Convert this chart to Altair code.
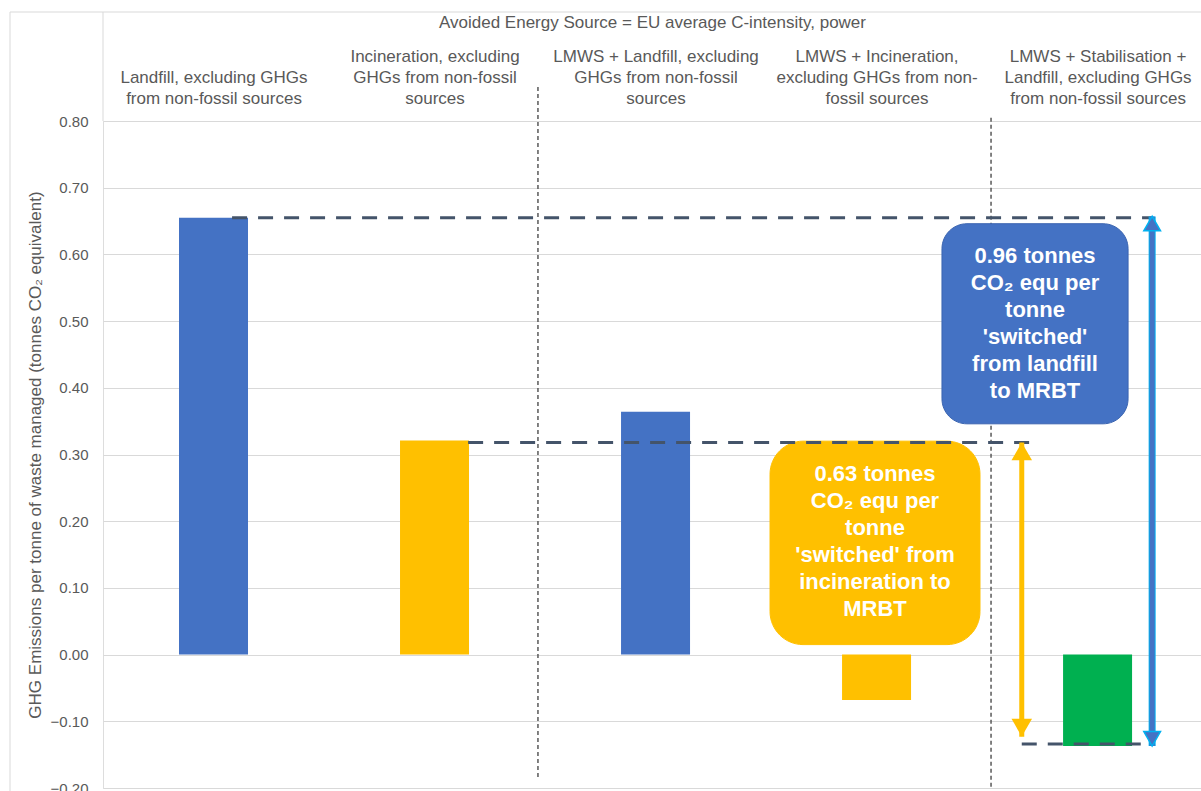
import json
import altair as alt
import pandas as pd

# ---- chart values ---------------------------------------------------------
categories = [
    "Landfill",
    "Incineration",
    "LMWS + Landfill",
    "LMWS + Incineration",
    "LMWS + Stabilisation + Landfill",
]
header_lines = [
    ["Landfill, excluding GHGs", "from non-fossil sources"],
    ["Incineration, excluding", "GHGs from non-fossil", "sources"],
    ["LMWS + Landfill, excluding", "GHGs from non-fossil", "sources"],
    ["LMWS + Incineration,", "excluding GHGs from non-", "fossil sources"],
    ["LMWS + Stabilisation +", "Landfill, excluding GHGs", "from non-fossil sources"],
]
category_pos = [0.5, 1.5, 2.5, 3.5, 4.5]
emissions = [0.655, 0.321, 0.364, -0.068, -0.137]
bar_colors = ["#4472C4", "#FFC000", "#4472C4", "#FFC000", "#00B050"]

# dashed reference levels
ref_level = [0.655, 0.318, -0.134]
ref_start = [0.584, 1.652, 4.157]
ref_end = [4.747, 4.195, 4.747]

# dotted group separators
sep_pos = [1.968, 4.018]
sep_top = [0.851, 0.805]
sep_bottom = [-0.188, -0.198]

# double-headed difference arrows (orange, blue)
arrow_pos = [4.157, 4.747]
arrow_top = [0.318, 0.657]
arrow_bottom = [-0.123, -0.137]

# call-out boxes (orange, blue)
box_left = [3.018, 3.796]
box_right = [3.968, 4.638]
box_top = [0.320, 0.646]
box_bottom = [0.015, 0.346]
box_text_x = [3.493, 4.217]
box_text_y = [0.170, 0.497]
box_text = [
    ["0.63 tonnes", "CO\u2082 equ per", "tonne", "'switched' from", "incineration to", "MRBT"],
    ["0.96 tonnes", "CO\u2082 equ per", "tonne", "'switched'", "from landfill", "to MRBT"],
]
box_fill = ["#FFC000", "#4472C4"]

header_title = "Avoided Energy Source = EU average C-intensity, power"
y_title = "GHG Emissions per tonne of waste managed (tonnes CO\u2082 equivalent)"
y_ticks = [-0.2, -0.1, 0.0, 0.1, 0.2, 0.3, 0.4, 0.5, 0.6, 0.7, 0.8]

# ---- layout ---------------------------------------------------------------
W, H = 1098, 667
X_DOMAIN = [0, 4.968]
Y_DOMAIN = [-0.2, 0.8]
FONT = "Liberation Sans"
GREY = "#595959"
BOX_LINE_H = 27


def xs(field, **kw):
    return alt.X(field, type="quantitative",
                 scale=alt.Scale(domain=X_DOMAIN, nice=False, zero=False, padding=0), **kw)


def ys(field, **kw):
    return alt.Y(field, type="quantitative",
                 scale=alt.Scale(domain=Y_DOMAIN, nice=False, zero=False), **kw)


bars_df = pd.DataFrame({"category": categories, "pos": category_pos,
                        "value": emissions, "color": bar_colors})
ref_df = pd.DataFrame({"level": ref_level, "start": ref_start, "end": ref_end})
sep_df = pd.DataFrame({"pos": sep_pos, "top": sep_top, "bottom": sep_bottom})
arrow_df = pd.DataFrame({"pos": arrow_pos, "top": arrow_top, "bottom": arrow_bottom})
box_df = pd.DataFrame({"left": box_left, "right": box_right, "top": box_top,
                       "bottom": box_bottom, "tx": box_text_x, "ty": box_text_y,
                       "label": ["\n".join(t) for t in box_text], "fill": box_fill})

# header labels are bottom-aligned: pad shorter ones with a blank first line
max_lines = max(len(lines) for lines in header_lines)
padded = [["\u00a0"] * (max_lines - len(lines)) + lines for lines in header_lines]
labels_js = json.dumps(["|".join(lines) for lines in padded])

x_axis = alt.Axis(
    orient="top", values=category_pos, grid=False, domain=False, ticks=False, tickSize=0,
    labelExpr=f"split({labels_js}[floor(datum.value)], '|')",
    labelFont=FONT, labelFontSize=17, labelColor=GREY, labelLineHeight=21,
    labelBaseline="top", labelPadding=73, labelLimit=400, labelOverlap=False,
    labelFlush=False,
    title=header_title, titleFont=FONT, titleFontSize=17, titleFontWeight="normal",
    titleColor=GREY, titleY=-99, titleBaseline="middle",
)
y_axis = alt.Axis(
    values=y_ticks, format=".2f", grid=True, gridColor="#D9D9D9", gridWidth=1,
    domain=False, ticks=False, labelFont=FONT, labelFontSize=15, labelColor=GREY,
    labelPadding=15, title=y_title, titleFont=FONT, titleFontSize=17,
    titleFontWeight="normal", titleColor=GREY, titleX=-68, titleBaseline="middle",
)

# outer chart frame and header box edge
frame = alt.Chart(pd.DataFrame({"k": [0]})).mark_rect(
    fill=None, stroke="#D9D9D9", strokeWidth=1
).encode(x=alt.value(-93), x2=alt.value(W + 20), y=alt.value(-109), y2=alt.value(H + 20))
header_edge = alt.Chart(pd.DataFrame({"k": [0]})).mark_rule(
    color="#D9D9D9", strokeWidth=1
).encode(x=alt.value(0), y=alt.value(-109), y2=alt.value(0))

bars = alt.Chart(bars_df).mark_bar(size=69, orient="vertical").encode(
    x=xs("pos", axis=x_axis),
    y=ys("value", axis=y_axis),
    y2=alt.Y2Datum(0),
    color=alt.Color("color:N", scale=None),
)

separators = alt.Chart(sep_df).mark_rule(
    color="#595959", strokeWidth=1.5, strokeDash=[4, 3], clip=False
).encode(x=xs("pos"), y=ys("top"), y2="bottom")

refs = alt.Chart(ref_df).mark_rule(
    color="#44546A", strokeWidth=3, strokeDash=[15, 11]
).encode(x=xs("start"), x2="end", y=ys("level"))

boxes_orange = alt.Chart(box_df.iloc[[0]]).mark_rect(
    cornerRadius=33, fill="#FFC000", stroke="#FFC000"
).encode(x=xs("left"), x2="right", y=ys("top"), y2="bottom")
boxes_blue = alt.Chart(box_df.iloc[[1]]).mark_rect(
    cornerRadius=25, fill="#4472C4", stroke="#3A64B0"
).encode(x=xs("left"), x2="right", y=ys("top"), y2="bottom")

n_box_lines = len(box_text[0])
box_labels = alt.Chart(box_df).mark_text(
    font=FONT, fontSize=22, fontWeight="bold", color="white", lineBreak="\n",
    lineHeight=BOX_LINE_H, align="center", baseline="middle",
    dy=-(n_box_lines - 1) * BOX_LINE_H / 2,
).encode(x=xs("tx"), y=ys("ty"), text="label:N")

# orange arrow
orange_df = arrow_df.iloc[[0]]
orange_shaft = alt.Chart(orange_df).mark_rule(color="#FFC000", strokeWidth=5).encode(
    x=xs("pos"), y=ys("top"), y2="bottom")
orange_up = alt.Chart(orange_df).mark_point(
    shape="triangle-up", size=420, filled=True, color="#FFC000", opacity=1, yOffset=8.9
).encode(x=xs("pos"), y=ys("top"))
orange_down = alt.Chart(orange_df).mark_point(
    shape="triangle-down", size=420, filled=True, color="#FFC000", opacity=1, yOffset=-8.9
).encode(x=xs("pos"), y=ys("bottom"))

# blue arrow with light outline
blue_df = arrow_df.iloc[[1]]
blue_outline = alt.Chart(blue_df).mark_rule(color="#00B0F0", strokeWidth=7).encode(
    x=xs("pos"), y=ys("top"), y2="bottom")
blue_shaft = alt.Chart(blue_df).mark_rule(color="#4472C4", strokeWidth=5).encode(
    x=xs("pos"), y=ys("top"), y2="bottom")
blue_up = alt.Chart(blue_df).mark_point(
    shape="triangle-up", size=280, filled=True, fill="#4472C4", stroke="#00B0F0",
    strokeWidth=1.5, opacity=1, yOffset=7.2
).encode(x=xs("pos"), y=ys("top"))
blue_down = alt.Chart(blue_df).mark_point(
    shape="triangle-down", size=280, filled=True, fill="#4472C4", stroke="#00B0F0",
    strokeWidth=1.5, opacity=1, yOffset=-7.2
).encode(x=xs("pos"), y=ys("bottom"))

chart = alt.layer(
    bars, frame, header_edge, separators, boxes_orange, boxes_blue, refs,
    box_labels, orange_shaft, orange_up, orange_down,
    blue_outline, blue_shaft, blue_up, blue_down,
).properties(
    width=W, height=H,
    autosize=alt.AutoSizeParams(type="none"),
    padding={"left": 103, "top": 121, "right": 0, "bottom": 3},
).configure_view(stroke=None).configure(background="white")

chart.save("out.html", embed_options={"renderer": "svg", "actions": False})
